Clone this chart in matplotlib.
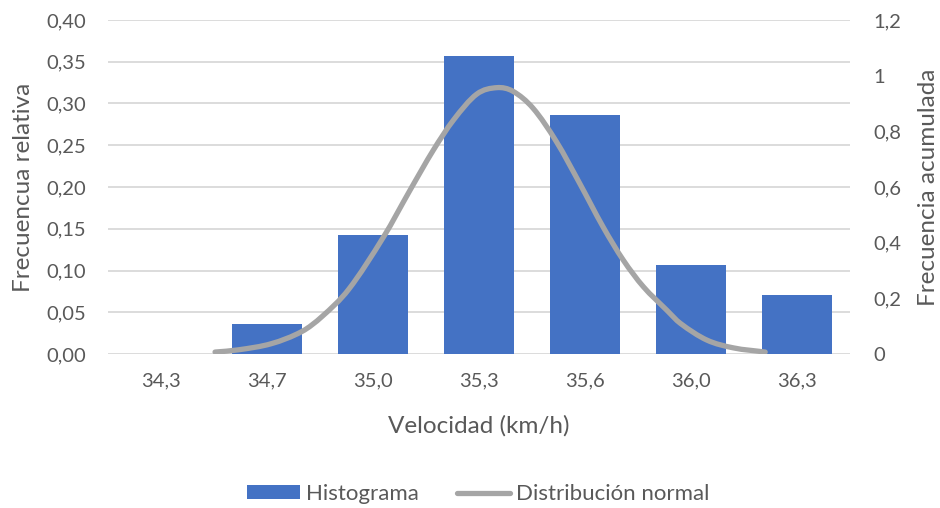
import matplotlib
matplotlib.use("Agg")
import matplotlib.pyplot as plt
from matplotlib.path import Path
from matplotlib.patches import PathPatch, Patch
from matplotlib.lines import Line2D
import numpy as np

# Histogram of speeds
categories = ["34,3", "34,7", "35,0", "35,3", "35,6", "36,0", "36,3"]
rel_freq = [0.0, 0.036, 0.143, 0.357, 0.286, 0.107, 0.071]

# Normal distribution curve (position on the category axis, value on right axis)
curve_x = [0.51, 0.73, 1.04, 1.33, 1.52, 1.77, 2.10, 2.35, 2.57, 2.76, 2.98, 3.17,
           3.32, 3.51, 3.73, 3.95, 4.17, 4.36, 4.55, 4.77, 4.90, 5.15, 5.40, 5.70]
curve_y = [0.007, 0.015, 0.037, 0.081, 0.135, 0.232, 0.421, 0.589, 0.733, 0.841, 0.934, 0.957,
           0.944, 0.883, 0.763, 0.613, 0.457, 0.338, 0.242, 0.158, 0.110, 0.050, 0.022, 0.007]

left_ticks = [0.0, 0.05, 0.10, 0.15, 0.20, 0.25, 0.30, 0.35, 0.40]
right_ticks = [0, 0.2, 0.4, 0.6, 0.8, 1.0, 1.2]
right_labels = ["0", "0,2", "0,4", "0,6", "0,8", "1", "1,2"]

BAR = "#4472C4"
LINE = "#A5A5A5"
TXT = "#595959"
GRID = "#D9D9D9"

plt.rcParams["font.family"] = ["Lato", "DejaVu Sans"]

fig = plt.figure(figsize=(9.4, 5.08), dpi=100)
ax = fig.add_axes([108 / 940, 1 - 354 / 508, 742 / 940, 334 / 508])
ax2 = ax.twinx()

x = np.arange(len(categories))
ax.bar(x, rel_freq, width=0.667, color=BAR, zorder=2)
ax.set_xlim(-0.5, len(categories) - 0.5)
ax.set_ylim(0, 0.40)
ax.set_yticks(left_ticks)
ax.set_yticklabels([f"{v:.2f}".replace(".", ",") for v in left_ticks])
ax.set_xticks(x)
ax.set_xticklabels(categories)
ax.grid(axis="y", color=GRID, linewidth=1.3, zorder=0)
ax.set_axisbelow(True)
ax.tick_params(axis="both", length=0, labelsize=14.5, colors=TXT)
ax.tick_params(axis="y", pad=16)
ax.tick_params(axis="x", pad=13)
for s in ax.spines.values():
    s.set_visible(False)
ax.set_ylabel("Frecuencua relativa", fontsize=17.5, color=TXT, labelpad=9)
ax.set_xlabel("Velocidad (km/h)", fontsize=17.5, color=TXT, labelpad=19)

ax2.set_ylim(0, 1.2)
ax2.set_yticks(right_ticks)
ax2.set_yticklabels(right_labels)
ax2.tick_params(axis="y", length=0, labelsize=14.5, colors=TXT, pad=17)
for s in ax2.spines.values():
    s.set_visible(False)
ax2.set_ylabel("Frecuencia acumulada", fontsize=17.5, color=TXT, labelpad=12)

# Smooth cubic Hermite path through the curve points, built from Bezier segments
cx = np.asarray(curve_x, dtype=float)
cy = np.asarray(curve_y, dtype=float)
n = len(cx)
slopes = np.empty(n)
slopes[0] = (cy[1] - cy[0]) / (cx[1] - cx[0])
slopes[-1] = (cy[-1] - cy[-2]) / (cx[-1] - cx[-2])
slopes[1:-1] = (cy[2:] - cy[:-2]) / (cx[2:] - cx[:-2])
verts = [(cx[0], cy[0])]
codes = [Path.MOVETO]
for i in range(n - 1):
    dx = cx[i + 1] - cx[i]
    verts += [(cx[i] + dx / 3, cy[i] + slopes[i] * dx / 3),
              (cx[i + 1] - dx / 3, cy[i + 1] - slopes[i + 1] * dx / 3),
              (cx[i + 1], cy[i + 1])]
    codes += [Path.CURVE4] * 3
ax2.add_patch(PathPatch(Path(verts, codes), facecolor="none", edgecolor=LINE,
                        linewidth=3.8, capstyle="round", joinstyle="round", zorder=3))

handles = [Patch(facecolor=BAR, edgecolor="none"),
           Line2D([0], [0], color=LINE, linewidth=3.8, solid_capstyle="round")]
fig.legend(handles, ["Histograma", "Distribución normal"], loc="center",
           bbox_to_anchor=(478 / 940, 1 - 494 / 508), ncol=2, frameon=False,
           fontsize=16, labelcolor=TXT, handlelength=2.4, handleheight=0.55,
           handletextpad=0.25, columnspacing=1.7)

fig.savefig("out.png", dpi=100)
